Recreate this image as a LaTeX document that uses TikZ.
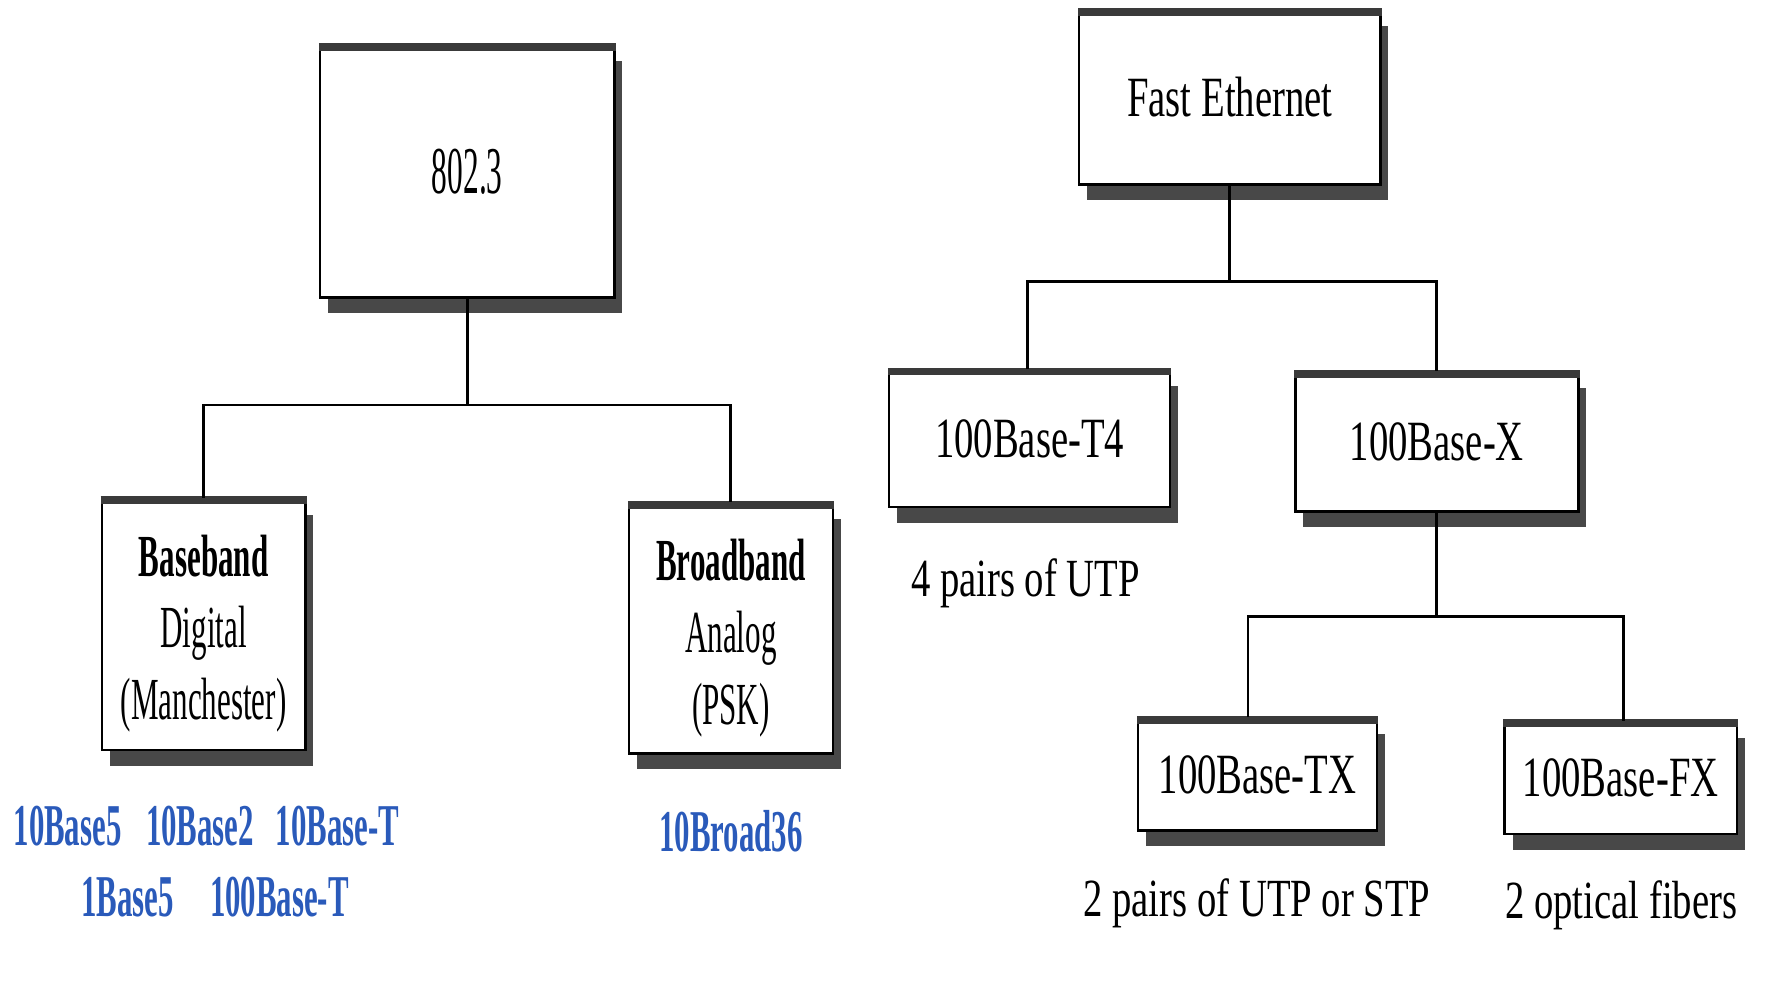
\documentclass[tikz,border=0pt]{standalone}
\usepackage{fontspec}
\setmainfont{Liberation Serif}
\newfontfamily\fBig[FakeStretch=0.47]{Liberation Serif}
\newfontfamily\fLeft[FakeStretch=0.52]{Liberation Serif}
\newfontfamily\fRight[FakeStretch=0.68]{Liberation Serif}
\newfontfamily\fLab[FakeStretch=0.72]{Liberation Serif}
\usetikzlibrary{shadows}
\definecolor{shade}{RGB}{72,72,72}
\definecolor{band}{RGB}{58,58,58}
\definecolor{lblue}{RGB}{42,90,186}
\tikzset{
  box/.style={draw=black, line width=0.6pt, fill=white, inner sep=0pt, align=center,
    drop shadow={shadow xshift=0.07cm, shadow yshift=-0.14cm, opacity=1, fill=shade}},
  topband/.style={draw=band, line width=2pt},
  conn/.style={draw=black, line width=0.7pt},
  bigtxt/.style={font=\fBig\fontsize{16.8}{20}\selectfont},
  lefttxt/.style={font=\fLeft\fontsize{15}{18}\selectfont, align=center, inner sep=0pt},
  righttxt/.style={font=\fRight\fontsize{14.3}{17}\selectfont},
  bluetxt/.style={font=\fLeft\bfseries\fontsize{14.9}{18}\selectfont, text=lblue, anchor=base, inner sep=0pt},
  labtxt/.style={font=\fLab\fontsize{13.5}{16}\selectfont, anchor=base, inner sep=0pt},
}
\begin{document}
\begin{tikzpicture}[x=0.01cm, y=-0.01cm]
\useasboundingbox (0,0) rectangle (1568,874);

% boxes
\node[box, bigtxt, minimum width=2.60cm, minimum height=2.23cm] (n8023) at (413,151.5) {802.3};
\node[box, minimum width=1.80cm, minimum height=2.22cm,
  label={[lefttxt, yshift=-0.08cm]center:{\textbf{Baseband}\\Digital\\(Manchester)}}] (base) at (180,552) {};
\node[box, minimum width=1.80cm, minimum height=2.21cm,
  label={[lefttxt, yshift=-0.085cm]center:{\textbf{Broadband}\\Analog\\(PSK)}}] (broad) at (646,555.5) {};
\node[box, righttxt, minimum width=2.66cm, minimum height=1.54cm] (fe) at (1087,86) {Fast Ethernet};
\node[box, righttxt, minimum width=2.48cm, minimum height=1.21cm] (t4) at (910,387.5) {100Base-T4};
\node[box, righttxt, minimum width=2.50cm, minimum height=1.23cm] (bx) at (1270,390.5) {100Base-X};
\node[box, righttxt, minimum width=2.11cm, minimum height=0.99cm] (tx) at (1111.5,684.5) {100Base-TX};
\node[box, righttxt, minimum width=2.05cm, minimum height=0.99cm] (fx) at (1432.5,687.5) {100Base-FX};

\foreach \n in {n8023,base,broad,fe,t4,bx,tx,fx}
  \draw[topband] ([yshift=-0.7pt]\n.north west) -- ([yshift=-0.7pt]\n.north east);

% connectors
\coordinate (j1) at (413,358);
\coordinate (j2) at (1087,249);
\coordinate (j3) at (1270,545);
\draw[conn] (n8023.south) -- (j1);
\draw[conn] (base.north) |- (j1) -| (broad.north);
\draw[conn] (fe.south) -- (j2);
\draw[conn] ([xshift=-0.02cm]t4.north) |- (j2) -| (bx.north);
\draw[conn] (bx.south) -- (j3);
\draw[conn] ([xshift=-0.085cm]tx.north) |- (j3) -| ([xshift=0.025cm]fx.north);

% blue labels
\node[bluetxt] (b1) at (59.7,747) {10Base5};
\node[bluetxt] (b2) at (176.8,747) {10Base2};
\node[bluetxt] (b3) at (298.3,747) {10Base-T};
\node[bluetxt] (b4) at (112.7,810) {1Base5};
\node[bluetxt] (b5) at (247,810) {100Base-T};
\node[bluetxt] (b6) at (646,753) {10Broad36};

% media labels
\node[labtxt] (l1) at (906.4,527) {4 pairs of UTP};
\node[labtxt] (l2) at (1111,810) {2 pairs of UTP or STP};
\node[labtxt] (l3) at (1433,812) {2 optical fibers};
\end{tikzpicture}
\end{document}
